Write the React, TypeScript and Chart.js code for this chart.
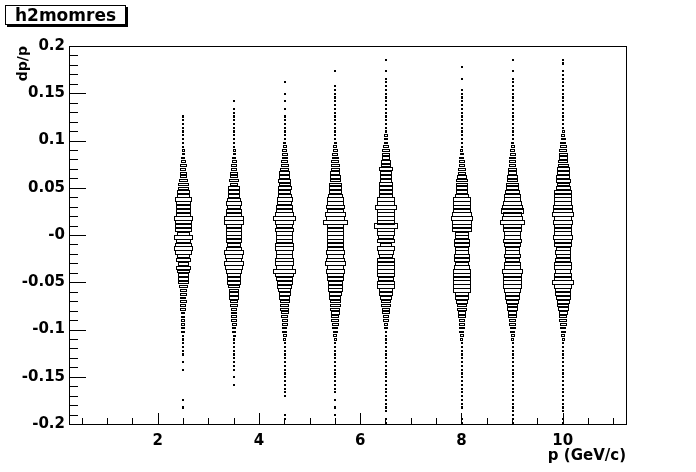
import React, { useEffect, useRef } from "react";
import { Chart, registerables } from "chart.js";

Chart.register(...registerables);

// ---- texts ----
const HIST_TITLE = "h2momres";
const X_TITLE = "p (GeV/c)";
const Y_TITLE = "dp/p";

// ---- axes ----
const X_MIN = 0.25;
const X_MAX = 11.25;
const Y_MIN = -0.2;
const Y_MAX = 0.2;
const X_BIN = 0.5; // width of one p bin
const Y_BIN = 0.004; // height of one dp/p bin (100 bins)
const X_TICKS = [2, 4, 6, 8, 10];
const X_TICK_LABELS = ["2", "4", "6", "8", "10"];
const Y_TICKS = [-0.2, -0.15, -0.1, -0.05, 0, 0.05, 0.1, 0.15, 0.2];
const Y_TICK_LABELS = ["-0.2", "-0.15", "-0.1", "-0.05", "-0", "0.05", "0.1", "0.15", "0.2"];
const X_MINOR_STEP = 0.5;
const Y_MINOR_STEP = 0.01;

// ---- data: p bin centres and per dp/p bin contents (listed from dp/p = +0.2 downwards) ----
const P_BINS = [2.5, 3.5, 4.5, 5.5, 6.5, 8, 9, 10];

const COUNTS_P2_5 = [
  0, 0, 0, 0, 0, 0, 0, 0, 0, 0,
  0, 0, 0, 0, 0, 0, 0, 0, 1, 1,
  1, 1, 1, 1, 1, 1, 1, 2, 2, 3,
  4, 6, 5, 6, 7, 8, 10, 10, 12, 12,
  17, 14, 14, 14, 14, 18, 16, 16, 16, 13,
  18, 14, 16, 18, 17, 12, 14, 10, 14, 12,
  10, 10, 10, 8, 7, 7, 5, 6, 5, 5,
  3, 3, 3, 3, 3, 3, 1, 1, 1, 1,
  1, 1, 0, 1, 0, 1, 0, 0, 0, 0,
  0, 0, 0, 1, 0, 1, 0, 0, 0, 0,
];
const COUNTS_P3_5 = [
  0, 0, 0, 0, 0, 0, 0, 0, 0, 0,
  0, 0, 0, 0, 1, 0, 1, 1, 1, 1,
  1, 1, 1, 1, 1, 1, 1, 2, 2, 3,
  4, 6, 6, 7, 8, 10, 8, 12, 11, 12,
  14, 16, 14, 16, 16, 20, 19, 16, 15, 16,
  15, 15, 14, 16, 19, 17, 15, 19, 17, 16,
  14, 13, 13, 12, 10, 9, 10, 8, 7, 6,
  6, 5, 5, 4, 3, 3, 2, 1, 1, 1,
  1, 1, 1, 1, 1, 1, 0, 1, 0, 1,
  0, 0, 0, 0, 0, 0, 0, 0, 0, 0,
];
const COUNTS_P4_5 = [
  0, 0, 0, 0, 0, 0, 0, 0, 0, 1,
  0, 0, 1, 0, 1, 0, 1, 0, 1, 1,
  1, 1, 1, 1, 1, 2, 3, 4, 5, 5,
  6, 7, 8, 10, 10, 12, 11, 13, 12, 13,
  15, 14, 16, 17, 18, 22, 19, 17, 18, 17,
  16, 17, 18, 19, 16, 17, 18, 19, 17, 22,
  18, 16, 15, 14, 12, 11, 10, 9, 8, 8,
  7, 6, 5, 5, 4, 4, 3, 2, 1, 1,
  1, 1, 1, 1, 1, 1, 1, 1, 1, 1,
  1, 1, 1, 0, 0, 0, 0, 1, 1, 0,
];
const COUNTS_P5_5 = [
  0, 0, 0, 0, 0, 0, 1, 0, 0, 0,
  1, 1, 1, 1, 1, 1, 1, 1, 1, 1,
  1, 1, 1, 1, 1, 2, 3, 4, 5, 6,
  7, 8, 8, 9, 10, 10, 12, 13, 12, 15,
  16, 16, 18, 17, 20, 19, 24, 17, 17, 16,
  17, 16, 17, 16, 18, 17, 18, 20, 17, 18,
  17, 17, 15, 14, 14, 12, 11, 10, 10, 9,
  8, 7, 7, 6, 5, 4, 3, 2, 1, 1,
  1, 1, 1, 1, 1, 1, 1, 1, 1, 1,
  1, 1, 0, 1, 0, 1, 0, 1, 0, 0,
];
const COUNTS_P6_5 = [
  0, 0, 0, 1, 0, 0, 1, 0, 1, 1,
  1, 1, 1, 1, 1, 1, 1, 1, 1, 1,
  1, 2, 2, 3, 4, 4, 5, 7, 8, 8,
  10, 10, 13, 12, 12, 12, 14, 14, 14, 14,
  18, 17, 21, 17, 17, 18, 17, 23, 17, 17,
  15, 17, 12, 17, 15, 13, 17, 17, 17, 17,
  17, 15, 17, 17, 14, 13, 12, 10, 9, 8,
  7, 6, 5, 4, 3, 1, 1, 1, 1, 1,
  1, 1, 1, 1, 1, 1, 1, 1, 1, 1,
  1, 1, 1, 1, 1, 1, 1, 0, 1, 1,
];
const COUNTS_P8 = [
  0, 0, 0, 0, 0, 1, 0, 0, 1, 0,
  0, 1, 1, 1, 1, 1, 1, 1, 1, 1,
  1, 1, 1, 1, 1, 1, 1, 2, 3, 4,
  5, 6, 7, 8, 10, 11, 12, 12, 11, 13,
  17, 18, 17, 18, 19, 22, 20, 20, 19, 14,
  14, 16, 15, 14, 14, 16, 15, 14, 16, 18,
  18, 17, 18, 18, 17, 14, 13, 12, 10, 9,
  8, 7, 6, 5, 5, 4, 3, 2, 1, 1,
  1, 1, 1, 1, 1, 1, 1, 1, 1, 1,
  1, 1, 1, 1, 1, 1, 0, 0, 1, 1,
];
const COUNTS_P9 = [
  0, 0, 0, 1, 0, 0, 1, 0, 1, 1,
  1, 1, 1, 1, 1, 1, 1, 1, 1, 1,
  1, 1, 1, 1, 1, 2, 3, 4, 5, 6,
  6, 7, 8, 9, 10, 11, 12, 13, 14, 16,
  17, 18, 20, 22, 19, 21, 24, 19, 18, 17,
  17, 18, 16, 15, 14, 16, 15, 17, 16, 20,
  18, 18, 19, 18, 17, 15, 14, 12, 11, 10,
  9, 8, 7, 6, 5, 4, 3, 2, 1, 1,
  1, 1, 1, 1, 1, 1, 1, 1, 1, 1,
  1, 1, 1, 1, 1, 1, 1, 1, 1, 1,
];
const COUNTS_P10 = [
  0, 0, 0, 1, 1, 0, 1, 1, 1, 1,
  1, 1, 1, 1, 1, 1, 1, 1, 1, 1,
  1, 1, 2, 3, 4, 5, 6, 7, 8, 8,
  9, 10, 12, 12, 13, 14, 12, 14, 18, 17,
  18, 18, 19, 20, 22, 18, 19, 18, 17, 18,
  19, 18, 17, 14, 15, 14, 16, 17, 18, 16,
  17, 18, 22, 17, 16, 15, 14, 12, 11, 10,
  8, 7, 7, 6, 5, 4, 3, 2, 1, 1,
  1, 1, 1, 1, 1, 1, 1, 1, 1, 1,
  1, 1, 1, 1, 1, 1, 1, 0, 1, 1,
];
const COLUMN_COUNTS = [
  COUNTS_P2_5, COUNTS_P3_5, COUNTS_P4_5, COUNTS_P5_5,
  COUNTS_P6_5, COUNTS_P8, COUNTS_P9, COUNTS_P10,
];
const Z_MAX = 26; // box of this content fills the whole cell

// ---- style ----
const FONT = "'DejaVu Sans', 'Liberation Sans', Arial, sans-serif";
const LABEL_SIZE = 15;
const X_TITLE_SIZE = 15;
const Y_TITLE_SIZE = 14;
const HIST_TITLE_SIZE = 17;

type BoxPoint = { x: number; y: number; c: number };

const boxesPlugin = {
  id: "rootBoxes",
  afterDatasetsDraw(chart: any) {
    const { ctx } = chart;
    const xs = chart.scales.x;
    const ys = chart.scales.y;
    ctx.save();
    ctx.fillStyle = "#000";
    chart.data.datasets.forEach((ds: any) => {
      (ds.data as BoxPoint[]).forEach((pt) => {
        const r = pt.c / Z_MAX;
        const xl = xs.getPixelForValue(pt.x - (X_BIN * r) / 2);
        const xr = xs.getPixelForValue(pt.x + (X_BIN * r) / 2);
        const yt = ys.getPixelForValue(pt.y + (Y_BIN * r) / 2);
        const yb = ys.getPixelForValue(pt.y - (Y_BIN * r) / 2);
        const x0 = Math.round(xl);
        const x1 = Math.max(x0 + 1, Math.round(xr));
        const y0 = Math.floor(yt);
        const y1 = Math.max(y0 + 1, Math.ceil(yb));
        const w = x1 - x0 + 1;
        const h = y1 - y0 + 1;
        ctx.fillRect(x0, y0, w, 1);
        ctx.fillRect(x0, y1, w, 1);
        ctx.fillRect(x0, y0, 1, h);
        ctx.fillRect(x1, y0, 1, h);
      });
    });
    ctx.restore();
  },
};

const framePlugin = {
  id: "rootFrame",
  afterDraw(chart: any) {
    const { ctx, chartArea } = chart;
    const xs = chart.scales.x;
    const ys = chart.scales.y;
    const L = Math.round(chartArea.left);
    const R = Math.round(chartArea.right);
    const T = Math.round(chartArea.top);
    const B = Math.round(chartArea.bottom);
    ctx.save();
    ctx.fillStyle = "#000";
    // frame
    ctx.fillRect(L, T, R - L + 1, 1);
    ctx.fillRect(L, B, R - L + 1, 1);
    ctx.fillRect(L, T, 1, B - T + 1);
    ctx.fillRect(R, T, 1, B - T + 1);
    // y ticks (inside)
    const yMajorLen = Math.round((R - L) * 0.03);
    const nY = Math.round((Y_MAX - Y_MIN) / Y_MINOR_STEP);
    for (let i = 0; i <= nY; i++) {
      const v = Y_MIN + i * Y_MINOR_STEP;
      const py = Math.round(ys.getPixelForValue(v));
      const major = i % 5 === 0;
      ctx.fillRect(L, py, major ? yMajorLen : Math.round(yMajorLen / 2), 1);
    }
    // x ticks (inside)
    const xMajorLen = Math.round((B - T) * 0.03);
    for (let v = X_MINOR_STEP; v < X_MAX; v += X_MINOR_STEP) {
      const px = Math.round(xs.getPixelForValue(v));
      const major = X_TICKS.includes(v);
      const len = major ? xMajorLen : Math.round(xMajorLen / 2);
      ctx.fillRect(px, B - len, 1, len);
    }
    // histogram title box
    const bx = 5, by = 5, bw = 121, bh = 20;
    ctx.fillStyle = "#000";
    ctx.fillRect(bx + 2, by + 2, bw, bh);
    ctx.fillStyle = "#fff";
    ctx.fillRect(bx, by, bw, bh);
    ctx.strokeStyle = "#000";
    ctx.lineWidth = 1;
    ctx.strokeRect(bx + 0.5, by + 0.5, bw - 1, bh - 1);
    ctx.fillStyle = "#000";
    ctx.font = `bold ${HIST_TITLE_SIZE}px ${FONT}`;
    ctx.textAlign = "center";
    ctx.textBaseline = "alphabetic";
    ctx.fillText(HIST_TITLE, bx + bw / 2, by + 16);
    ctx.restore();
  },
};

export default function App() {
  const canvasRef = useRef<HTMLCanvasElement | null>(null);

  useEffect(() => {
    if (!canvasRef.current) return;
    const datasets = P_BINS.map((p, ci) => ({
      label: `p = ${p}`,
      data: COLUMN_COUNTS[ci]
        .map((c, k) => ({ x: p, y: Y_MAX - (k + 0.5) * Y_BIN, c }))
        .filter((pt) => pt.c > 0),
      pointRadius: 0,
      pointHoverRadius: 0,
      showLine: false,
    }));

    const chart = new Chart(canvasRef.current, {
      type: "scatter",
      data: { datasets },
      plugins: [boxesPlugin, framePlugin],
      options: {
        animation: false,
        responsive: false,
        devicePixelRatio: 1,
        events: [],
        layout: { padding: { left: 0, top: 46, right: 70, bottom: 0 } },
        plugins: {
          legend: { display: false },
          tooltip: { enabled: false },
          title: { display: false },
        },
        scales: {
          x: {
            type: "linear",
            min: X_MIN,
            max: X_MAX,
            afterBuildTicks: (s: any) => {
              s.ticks = X_TICKS.map((v) => ({ value: v }));
            },
            afterFit: (s: any) => {
              s.height = 48;
            },
            grid: { display: false, drawTicks: false },
            border: { display: false },
            ticks: {
              autoSkip: false,
              maxRotation: 0,
              padding: 8,
              color: "#000",
              font: { family: FONT, size: LABEL_SIZE, weight: "bold" },
              callback: (_v: any, i: number) => X_TICK_LABELS[i],
            },
            title: {
              display: true,
              text: X_TITLE,
              align: "end",
              color: "#000",
              font: { family: FONT, size: X_TITLE_SIZE, weight: "bold" },
              padding: { top: 0, bottom: 7 },
            },
          },
          y: {
            type: "linear",
            min: Y_MIN,
            max: Y_MAX,
            afterBuildTicks: (s: any) => {
              s.ticks = Y_TICKS.map((v) => ({ value: v }));
            },
            afterFit: (s: any) => {
              s.width = 69;
            },
            grid: { display: false, drawTicks: false },
            border: { display: false },
            ticks: {
              autoSkip: false,
              padding: 4,
              color: "#000",
              font: { family: FONT, size: LABEL_SIZE, weight: "bold" },
              callback: (_v: any, i: number) => Y_TICK_LABELS[i],
            },
            title: {
              display: true,
              text: Y_TITLE,
              align: "end",
              color: "#000",
              font: { family: FONT, size: Y_TITLE_SIZE, weight: "bold" },
              padding: { top: 15, bottom: 0 },
            },
          },
        },
      } as any,
    });
    return () => chart.destroy();
  }, []);

  return (
    <div style={{ position: "fixed", left: 0, top: 0, width: 696, height: 472, background: "#fff" }}>
      <canvas ref={canvasRef} width={696} height={472} style={{ width: 696, height: 472, display: "block" }} />
    </div>
  );
}
